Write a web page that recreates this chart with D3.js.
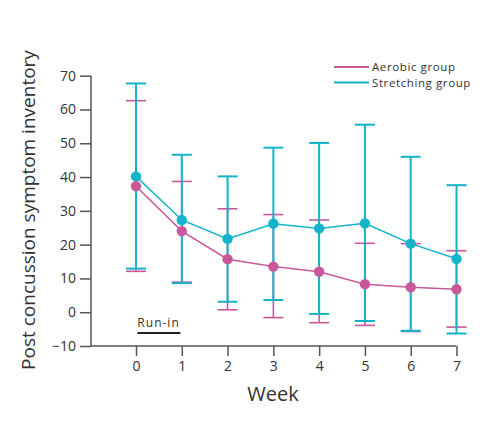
<!DOCTYPE html>
<html>
<head>
<meta charset="utf-8">
<script src="https://cdn.jsdelivr.net/npm/d3@7"></script>
<style>
  body { margin: 0; background: #fff; }
  svg text { font-family: "Open Sans", "DejaVu Sans", sans-serif; fill: #333; }
</style>
</head>
<body>
<svg width="500" height="422"></svg>
<script>
// values
let weeks = [0, 1, 2, 3, 4, 5, 6, 7]
let aerobicMean  = [37.3, 24.0, 15.7, 13.5, 12.0, 8.3, 7.4, 6.8]
let aerobicUpper = [62.6, 38.7, 30.6, 28.9, 27.3, 20.4, 20.3, 18.2]
let aerobicLower = [12.1, 8.9, 0.7, -1.6, -3.1, -3.9, -5.7, -4.4]
let stretchMean  = [40.2, 27.3, 21.7, 26.2, 24.8, 26.3, 20.3, 15.8]
let stretchUpper = [67.7, 46.6, 40.2, 48.7, 50.1, 55.5, 46.0, 37.6]
let stretchLower = [12.9, 8.6, 3.1, 3.6, -0.5, -2.6, -5.5, -6.3]
let yTicks = [-10, 0, 10, 20, 30, 40, 50, 60, 70]
let groupNames = ["Aerobic group", "Stretching group"]
let runIn = [0.03, 0.97]

let pink = "#c9589b"
let cyan = "#13b3c9"
let axisCol = "#555"

let svg = d3.select("svg")

let x = d3.scaleLinear().domain([0, 7]).range([136, 456.5])
let y = d3.scaleLinear().domain([-10, 70]).range([346, 75.7])
let xLeft = 91

function makeSeries(mean, upper, lower) {
    return weeks.map((w, i) => ({ w: w, m: mean[i], u: upper[i], l: lower[i] }))
}
let series = [
    { name: groupNames[0], color: pink, data: makeSeries(aerobicMean, aerobicUpper, aerobicLower), bw: 1.6 },
    { name: groupNames[1], color: cyan, data: makeSeries(stretchMean, stretchUpper, stretchLower), bw: 2 }
]

// axes
let yAxis = d3.axisLeft(y).tickValues(yTicks).tickSize(11).tickPadding(4)
let gy = svg.append("g").attr("transform", `translate(${xLeft},0)`).call(yAxis)
gy.select(".domain").remove()
gy.append("line").attr("x1", 0).attr("x2", 0).attr("y1", y(70)).attr("y2", y(-10))
    .attr("stroke", axisCol).attr("stroke-width", 1.5)
gy.selectAll(".tick line").attr("stroke", axisCol).attr("stroke-width", 1.5)
gy.selectAll(".tick text").attr("font-size", 14).attr("fill", "#333").attr("font-family", "Open Sans, sans-serif")

let xAxis = d3.axisBottom(x).tickValues(weeks).tickFormat(d3.format("d")).tickSize(10).tickPadding(5)
let gx = svg.append("g").attr("transform", `translate(0,${y(-10)})`).call(xAxis)
gx.select(".domain").remove()
gx.append("line").attr("x1", xLeft).attr("x2", x(7)).attr("y1", 0).attr("y2", 0)
    .attr("stroke", axisCol).attr("stroke-width", 1.5)
gx.selectAll(".tick line").attr("stroke", axisCol).attr("stroke-width", 1.5)
gx.selectAll(".tick text").attr("font-size", 14).attr("fill", "#333").attr("font-family", "Open Sans, sans-serif")

// axis titles
svg.append("text").attr("x", 273).attr("y", 401).attr("text-anchor", "middle")
    .attr("font-size", 20).text("Week")
svg.append("text").attr("transform", "translate(35,210) rotate(-90)").attr("text-anchor", "middle")
    .attr("font-size", 19).text("Post concussion symptom inventory")

// run-in marker
svg.append("text").attr("x", x(runIn[0])).attr("y", 327).attr("font-size", 12)
    .attr("letter-spacing", 1).text("Run-in")
svg.append("line").attr("x1", x(runIn[0])).attr("x2", x(runIn[1])).attr("y1", 333).attr("y2", 333)
    .attr("stroke", "#222").attr("stroke-width", 2)

// error bars
let cap = 10
series.forEach(s => {
    let g = svg.append("g").attr("stroke", s.color).attr("stroke-width", s.bw)
    s.data.forEach(d => {
        g.append("line").attr("x1", x(d.w)).attr("x2", x(d.w)).attr("y1", y(d.u)).attr("y2", y(d.l))
        g.append("line").attr("x1", x(d.w) - cap).attr("x2", x(d.w) + cap).attr("y1", y(d.u)).attr("y2", y(d.u))
        g.append("line").attr("x1", x(d.w) - cap).attr("x2", x(d.w) + cap).attr("y1", y(d.l)).attr("y2", y(d.l))
    })
})

// lines + dots (stretching first so aerobic dots sit on top)
let line = d3.line().x(d => x(d.w)).y(d => y(d.m))
series.slice().reverse().forEach(s => {
    svg.append("path").datum(s.data).attr("d", line)
        .attr("fill", "none").attr("stroke", s.color).attr("stroke-width", 1.5)
    svg.append("g").selectAll("circle").data(s.data).join("circle")
        .attr("cx", d => x(d.w)).attr("cy", d => y(d.m)).attr("r", 5.2)
        .attr("fill", s.color)
})

// legend
let lg = svg.append("g").attr("transform", "translate(334,67)")
series.forEach((s, i) => {
    lg.append("line").attr("x1", 0).attr("x2", 35).attr("y1", i * 15.5).attr("y2", i * 15.5)
        .attr("stroke", s.color).attr("stroke-width", 2)
    lg.append("text").attr("x", 38).attr("y", i * 15.5 + 4).attr("font-size", 11.5)
        .attr("letter-spacing", 0.6).text(s.name)
})
</script>
</body>
</html>
